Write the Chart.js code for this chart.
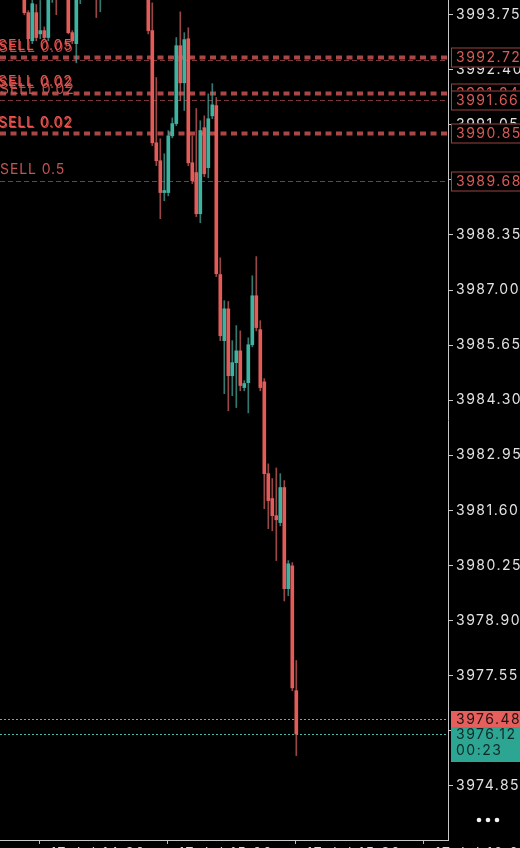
<!DOCTYPE html>
<html><head><meta charset="utf-8">
<script src="https://cdn.jsdelivr.net/npm/chart.js@4.4.0/dist/chart.umd.min.js"></script>
<style>html,body{margin:0;padding:0;background:#000;overflow:hidden;width:520px;height:848px}canvas{display:block}</style>
</head><body>
<canvas id="c" width="520" height="870"></canvas>
<script>
// one-minute candles, oldest first
const opens  = [3995.20,3994.90,3995.10,3995.30,3994.80,3994.50,3993.80,3993.11,3993.80,3993.28,3993.36,3993.19,3994.35,3994.80,3994.50,3994.30,3994.20,3993.31,3993.04,3994.30,3994.60,3994.40,3994.70,3994.40,3994.20,3994.50,3994.90,3995.30,3995.10,3995.50,3995.80,3995.60,3995.40,3995.70,3995.30,3995.00,
                3994.60,3993.36,3990.61,3990.17,3989.39,3989.39,3990.78,3991.08,3992.99,3992.08,3993.16,3990.12,3989.88,3988.87,3990.98,3990.00,3991.27,3991.52,3987.38,3985.76,3986.54,3984.90,3985.22,3985.51,3984.61,3984.73,3985.66,3986.86,3986.03,3984.75,3982.50,3981.89,3981.47,3981.30,3982.16,3979.68,3980.24,3977.18];
const highs  = [3995.60,3995.30,3995.50,3995.60,3995.20,3994.70,3993.85,3994.30,3994.00,3994.10,3993.45,3994.60,3995.00,3995.00,3994.70,3994.50,3994.40,3993.36,3994.50,3994.80,3994.90,3995.00,3994.90,3994.60,3994.70,3995.10,3995.50,3995.60,3995.70,3996.00,3996.10,3995.80,3995.90,3995.80,3995.50,3995.20,
                3994.80,3994.04,3992.21,3990.71,3990.34,3990.91,3991.22,3993.19,3993.82,3993.31,3993.43,3990.78,3991.45,3991.15,3991.27,3991.81,3992.06,3991.72,3987.79,3986.74,3986.72,3985.76,3986.13,3986.00,3984.78,3985.83,3987.35,3987.82,3986.25,3984.83,3982.74,3982.38,3982.64,3982.50,3982.33,3980.37,3980.32,3977.92];
const lows   = [3994.70,3994.50,3994.80,3994.60,3994.30,3993.75,3993.11,3993.04,3993.11,3993.16,3993.14,3993.11,3994.05,3993.75,3994.20,3994.12,3993.28,3993.04,3992.57,3994.02,3994.25,3994.30,3994.20,3993.68,3993.82,3994.40,3994.80,3994.90,3995.00,3995.40,3995.50,3995.20,3995.30,3995.10,3994.80,3994.40,
                3993.28,3990.54,3990.05,3988.75,3989.19,3989.31,3990.73,3991.03,3991.64,3991.40,3990.05,3989.61,3988.80,3988.65,3989.78,3989.75,3991.20,3987.33,3985.76,3984.46,3984.04,3984.41,3984.12,3984.53,3984.53,3983.99,3985.61,3986.00,3984.53,3981.64,3981.15,3981.10,3980.37,3981.22,3979.38,3979.51,3977.18,3975.59];
const closes = [3994.90,3995.10,3995.30,3994.80,3994.50,3993.80,3993.16,3994.02,3993.19,3993.36,3993.19,3994.35,3994.80,3994.50,3994.30,3994.15,3993.31,3993.11,3994.30,3994.60,3994.40,3994.70,3994.40,3994.20,3994.50,3994.90,3995.30,3995.10,3995.50,3995.80,3995.60,3995.40,3995.70,3995.30,3995.00,3994.60,
                3993.36,3990.61,3990.17,3989.39,3989.44,3990.78,3991.08,3992.99,3992.08,3993.14,3990.12,3989.68,3988.87,3990.91,3989.85,3991.20,3991.54,3987.40,3985.88,3986.54,3984.90,3985.22,3985.51,3984.66,3984.71,3985.66,3986.86,3986.08,3984.61,3982.50,3981.84,3981.47,3981.37,3982.16,3979.68,3980.29,3977.25,3976.12];

const yTicks = [3974.85,3976.20,3977.55,3978.90,3980.25,3981.60,3982.95,3984.30,3985.65,3987.00,3988.35,3989.70,3991.05,3992.40,3993.75];
const xTickPos = [8.8, 40.8, 72.85, 104.9];
const xTickLabels = ['17 Jul 14:30','17 Jul 15:00','17 Jul 15:30','17 Jul 16:00'];

// pending orders
const orderPrices = [3992.72, 3992.64, 3991.84, 3991.66, 3990.85, 3989.68];
const orderTexts  = ['SELL 0.05', '', 'SELL 0.02', 'SELL 0.02', 'SELL 0.02', 'SELL 0.5'];
const orderThick  = [true, false, true, false, true, false];

const askPrice = 3976.48;
const bidPrice = 3976.12;
const timerText = '00:23';

const RED = '#e35c5a', TEAL = '#3db3a2';
const FONT = 'Inter, "Liberation Sans", sans-serif';

const n = opens.length;
const idx = opens.map((_, i) => i);
const up = idx.map(i => closes[i] >= opens[i]);
const bodies = idx.map(i => ({x: i, y: [opens[i], closes[i]]}));
const wicks = idx.map(i => ({x: i, y: [lows[i], highs[i]]}));

const overlay = {
  id: 'overlay',
  beforeDraw(chart) {
    const ctx = chart.ctx;
    ctx.save(); ctx.fillStyle = '#000'; ctx.fillRect(0, 0, chart.width, chart.height); ctx.restore();
    ctx.letterSpacing = '1.5px';
  },
  beforeDatasetsDraw(chart) {
    const ctx = chart.ctx, ys = chart.scales.y, a = chart.chartArea;
    ctx.save();
    orderPrices.forEach((p, i) => {
      const y = Math.round(ys.getPixelForValue(p));
      ctx.beginPath();
      if (orderThick[i]) { ctx.lineWidth = 4; ctx.setLineDash([6, 4.5]); ctx.strokeStyle = '#a94747'; }
      else { ctx.lineWidth = 1; ctx.setLineDash([5, 3]); ctx.strokeStyle = '#7e3a3a'; }
      ctx.moveTo(a.left, y + 0.5); ctx.lineTo(a.right, y + 0.5); ctx.stroke();
    });
    [[askPrice, '#e27a77'], [bidPrice, '#4cb8a9']].forEach(([p, c]) => {
      const y = Math.round(ys.getPixelForValue(p)) + 0.5;
      ctx.beginPath(); ctx.lineWidth = 1; ctx.setLineDash([2, 2]); ctx.strokeStyle = c;
      ctx.moveTo(a.left, y); ctx.lineTo(a.right, y); ctx.stroke();
    });
    ctx.restore();
  },
  afterDraw(chart) {
    const ctx = chart.ctx, ys = chart.scales.y, a = chart.chartArea;
    ctx.save();
    ctx.font = '14px ' + FONT; ctx.textBaseline = 'middle'; ctx.textAlign = 'left';
    // order texts on the left
    orderPrices.forEach((p, i) => {
      if (!orderTexts[i]) return;
      const y = ys.getPixelForValue(p) - 10.5;
      ctx.letterSpacing = '0.9px';
      if (orderThick[i]) {
        ctx.fillStyle = '#c94643'; ctx.fillText(orderTexts[i], -1, y + 1.5);
        ctx.fillStyle = '#ee5450'; ctx.fillText(orderTexts[i], -2, y);
      } else {
        ctx.fillStyle = '#c65451'; ctx.fillText(orderTexts[i], 0, y);
      }
    });
    // price boxes on the axis
    ctx.letterSpacing = '1.5px';
    orderPrices.forEach((p, i) => {
      if (!orderTexts[i]) return;
      const yc = Math.round(ys.getPixelForValue(p)) + 0.5;
      ctx.fillStyle = '#000'; ctx.fillRect(452, yc - 10, 70, 20);
      ctx.strokeStyle = '#9c4242'; ctx.lineWidth = 1; ctx.setLineDash([]);
      ctx.strokeRect(451.5, yc - 9.5, 80, 19);
      ctx.fillStyle = '#d75b58'; ctx.fillText(p.toFixed(2), 456, yc + 0.5);
    });
    // ask / bid boxes
    const ya = ys.getPixelForValue(askPrice), yb = ys.getPixelForValue(bidPrice);
    ctx.fillStyle = '#e65f5c'; ctx.fillRect(451, Math.round(ya) - 8, 69, 16);
    ctx.fillStyle = '#2da593'; ctx.fillRect(451, Math.round(ya) + 8, 69, 35);
    ctx.fillStyle = '#1e1414'; ctx.fillText(askPrice.toFixed(2), 456, ya + 0.5);
    ctx.fillStyle = '#0f2a26'; ctx.fillText(bidPrice.toFixed(2), 456, yb + 0.5);
    ctx.fillText(timerText, 456, yb + 17);
    // menu dots
    ctx.fillStyle = '#f2f2f2';
    [479, 488, 497].forEach(x => { ctx.beginPath(); ctx.arc(x, 820, 2.3, 0, Math.PI * 2); ctx.fill(); });
    ctx.restore();
  }
};

new Chart(document.getElementById('c'), {
  type: 'bar',
  data: {
    datasets: [
      { data: bodies, backgroundColor: idx.map(i => up[i] ? TEAL : RED), barThickness: 3, grouped: false, minBarLength: 1, borderWidth: 0 },
      { data: wicks, backgroundColor: idx.map(i => up[i] ? 'rgba(70,160,148,0.75)' : 'rgba(200,95,93,0.75)'), barThickness: 1, grouped: false, borderWidth: 0 }
    ]
  },
  options: {
    responsive: false, animation: false, events: [],
    layout: { padding: 0 },
    plugins: { legend: { display: false }, tooltip: { enabled: false } },
    scales: {
      x: {
        type: 'linear', min: -1.075, max: 110.925, offset: false, position: 'bottom',
        grid: { display: true, drawOnChartArea: false, drawTicks: true, tickLength: 4, color: '#bdbdbd', offset: false },
        border: { display: true, color: '#c8c8c8', width: 1 },
        ticks: { align: 'start', autoSkip: false, maxRotation: 0, padding: 1, color: '#d8d8d8', font: { size: 14, family: FONT },
                 callback: (v, i) => '  ' + xTickLabels[i] },
        afterBuildTicks: s => { s.ticks = xTickPos.map(v => ({ value: v })); },
        afterFit: s => { s.height = 30; s.paddingLeft = 0; s.paddingRight = 0; }
      },
      y: {
        type: 'linear', position: 'right', min: 3973.52, max: 3994.11,
        grid: { display: true, drawOnChartArea: false, drawTicks: true, tickLength: 5, color: '#c8c8c8' },
        border: { display: true, color: '#c8c8c8', width: 1 },
        ticks: { padding: 3, color: '#e2e2e2', font: { size: 14, family: FONT }, callback: v => Number(v).toFixed(2) },
        afterBuildTicks: s => { s.ticks = yTicks.map(v => ({ value: v })); },
        afterFit: s => { s.width = 72; s.paddingTop = 0; s.paddingBottom = 0; }
      }
    }
  },
  plugins: [overlay]
});
</script>
</body></html>
